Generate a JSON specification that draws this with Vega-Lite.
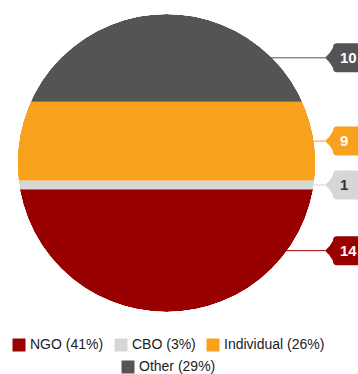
{
  "$schema": "https://vega.github.io/schema/vega-lite/v6.json",
  "width": 358,
  "height": 374,
  "autosize": "none",
  "padding": 0,
  "config": {"view": {"stroke": null}, "font": "Liberation Sans"},
  "data": {"values": [
    {"label": "NGO (41%)", "value": 14, "order": 1},
    {"label": "CBO (3%)", "value": 1, "order": 2},
    {"label": "Individual (26%)", "value": 9, "order": 3},
    {"label": "Other (29%)", "value": 10, "order": 4}
  ]},
  "transform": [
    {"stack": "value", "groupby": [], "sort": [{"field": "order", "order": "ascending"}], "as": ["y0", "y1"]},
    {"calculate": "(datum.y0 + datum.y1) / 2", "as": "ymid"}
  ],
  "layer": [
    {
      "mark": {"type": "rect"},
      "encoding": {
        "x": {"datum": -17, "type": "quantitative", "scale": {"domain": [-18.996, 21.85], "nice": false, "zero": false}, "axis": null},
        "x2": {"datum": 17},
        "y": {"field": "y0", "type": "quantitative", "scale": {"domain": [-7.0738, 35.597], "nice": false, "zero": false}, "axis": null},
        "y2": {"field": "y1"},
        "color": {
          "field": "label", "type": "nominal",
          "scale": {"domain": ["NGO (41%)", "CBO (3%)", "Individual (26%)", "Other (29%)"], "range": ["#990000", "#d6d6d6", "#f8a11c", "#545454"]},
          "legend": {
            "values": ["NGO (41%)", "CBO (3%)", "Individual (26%)"],
            "orient": "none", "legendX": 12, "legendY": 338, "direction": "horizontal",
            "title": null, "padding": 0, "symbolType": "square", "symbolSize": 169, "symbolStrokeWidth": 0,
            "labelFontSize": 14, "labelFont": "Liberation Sans", "labelColor": "#222222", "labelOffset": 4,
            "columnPadding": 10, "labelLimit": 400
          }
        }
      }
    },
    {
      "mark": {"type": "point", "shape": "circle", "size": 191844, "filled": false, "stroke": "white", "strokeWidth": 140, "opacity": 1},
      "encoding": {
        "x": {"datum": 0, "type": "quantitative"},
        "y": {"datum": 17, "type": "quantitative"}
      }
    },
    {
      "mark": {"type": "rule", "strokeWidth": 1},
      "encoding": {
        "x": {"datum": 0, "type": "quantitative"},
        "x2": {"datum": 18.085},
        "y": {"field": "ymid", "type": "quantitative"},
        "color": {"field": "label", "type": "nominal"}
      }
    },
    {
      "mark": {"type": "point", "shape": "M0,0 Q5,-4 8,-10 L8,-10.5 Q8,-14.5 12,-14.5 L60,-14.5 L60,14.5 L12,14.5 Q8,14.5 8,10.5 L8,10 Q5,4 0,0 Z", "size": 4, "filled": true, "opacity": 1, "strokeWidth": 0},
      "encoding": {
        "x": {"datum": 18.085, "type": "quantitative"},
        "y": {"field": "ymid", "type": "quantitative"},
        "fill": {
          "field": "label", "type": "nominal",
          "scale": {"domain": ["Other (29%)", "NGO (41%)", "CBO (3%)", "Individual (26%)"], "range": ["#545454", "#990000", "#d6d6d6", "#f8a11c"]},
          "legend": {
            "values": ["Other (29%)"],
            "orient": "none", "legendX": 121, "legendY": 360, "direction": "horizontal",
            "title": null, "padding": 0, "symbolType": "square", "symbolSize": 169, "symbolStrokeWidth": 0,
            "labelFontSize": 14, "labelFont": "Liberation Sans", "labelColor": "#222222", "labelOffset": 4
          }
        }
      }
    },
    {
      "mark": {"type": "text", "align": "left", "baseline": "middle", "dx": 15, "fontSize": 15, "fontWeight": "bold", "font": "Liberation Sans"},
      "encoding": {
        "x": {"datum": 18.085, "type": "quantitative"},
        "y": {"field": "ymid", "type": "quantitative"},
        "text": {"field": "value", "type": "quantitative"},
        "color": {"condition": {"test": "datum.order === 2", "value": "#333333"}, "value": "#ffffff"}
      }
    }
  ]
}
